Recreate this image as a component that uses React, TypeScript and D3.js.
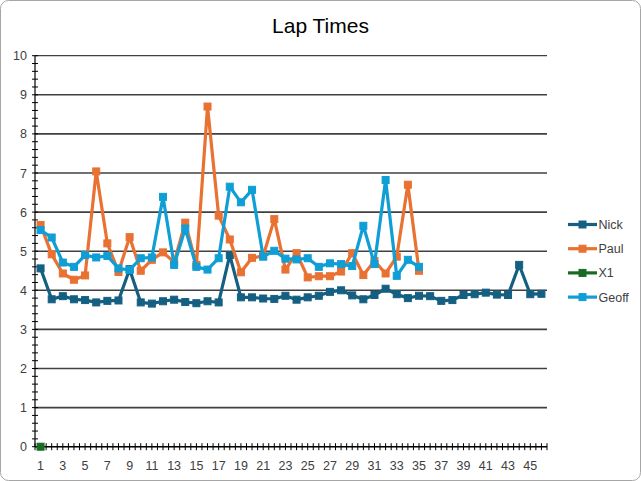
import React from "react";
import * as d3 from "d3";

const categories: number[] = d3.range(1, 47);
const nick: number[] = [4.56,3.77,3.85,3.77,3.75,3.69,3.73,3.74,4.54,3.69,3.66,3.72,3.76,3.70,3.67,3.72,3.69,4.90,3.82,3.82,3.79,3.78,3.86,3.76,3.82,3.86,3.96,4.0,3.87,3.77,3.88,4.04,3.9,3.8,3.86,3.85,3.73,3.75,3.88,3.9,3.94,3.89,3.88,4.65,3.9,3.91];
const paul: number[] = [5.67,4.92,4.43,4.27,4.38,7.04,5.2,4.47,5.36,4.5,4.78,4.97,4.72,5.73,4.65,8.7,5.91,5.3,4.46,4.83,4.88,5.82,4.53,4.95,4.33,4.36,4.36,4.48,4.95,4.39,4.75,4.43,4.86,6.7,4.5];
const x1: number[] = [0];
const geoff: number[] = [5.54,5.35,4.71,4.6,4.9,4.84,4.88,4.56,4.52,4.82,4.84,6.39,4.65,5.58,4.6,4.53,4.82,6.65,6.25,6.57,4.86,5.01,4.81,4.79,4.82,4.6,4.69,4.67,4.62,5.65,4.67,6.82,4.37,4.78,4.6];
const yTicks: number[] = [0,1,2,3,4,5,6,7,8,9,10];
const seriesNames: string[] = ["Nick", "Paul", "X1", "Geoff"];
const seriesColors: string[] = ["#156082", "#E97132", "#196B24", "#0F9ED5"];
const title = "Lap Times";

const W = 641, H = 481;
const left = 35, right = 547, top = 55.7, bottom = 446.7;
const FONT = "'Liberation Sans', Arial, sans-serif";

export default function App() {
  const x = d3.scaleLinear().domain([0.5, categories.length + 0.5]).range([left, right]);
  const y = d3.scaleLinear().domain([0, 10]).range([bottom, top]);
  const seriesData = [nick, paul, x1, geoff];
  const line = d3.line<number>().x((_, i) => x(i + 1)).y((d) => y(d));
  const minorY = d3.range(0, 10.001, 0.2);
  const xTickPos = d3.range(0.5, categories.length + 0.51, 0.5);
  const ms = 7;

  return (
    <svg width={W} height={H} style={{ position: "absolute", left: 0, top: 0, display: "block" }}>
      <rect x={0.5} y={0.5} width={W - 1} height={H - 1} rx={8} fill="#fff" stroke="#A6A6A6" />
      <text x={W / 2} y={32.5} textAnchor="middle" fontFamily={FONT} fontSize={21} fill="#000">{title}</text>
      {yTicks.map((t) => (
        <line key={"g" + t} x1={left} x2={right} y1={y(t)} y2={y(t)} stroke="#404040" strokeWidth={t === 10 ? 1.2 : 1.6} />
      ))}
      <line x1={left} x2={left} y1={top} y2={bottom} stroke="#000" strokeWidth={1.2} />
      <line x1={left} x2={right} y1={bottom} y2={bottom} stroke="#000" strokeWidth={1.2} />
      {minorY.map((t, i) => (
        <line key={"ym" + i} x1={left - 3} x2={left + 3} y1={y(t)} y2={y(t)} stroke="#000" strokeWidth={1} />
      ))}
      {xTickPos.map((t, i) => (
        <line key={"xm" + i} x1={x(t)} x2={x(t)} y1={bottom - 3.5} y2={bottom + 3.5} stroke="#000" strokeWidth={1} />
      ))}
      {yTicks.map((t) => (
        <text key={"yl" + t} x={27} y={y(t) + 4.5} textAnchor="end" fontFamily={FONT} fontSize={12.5} fill="#404040">{t}</text>
      ))}
      {categories.filter((c) => c % 2 === 1).map((c) => (
        <text key={"xl" + c} x={x(c)} y={470} textAnchor="middle" fontFamily={FONT} fontSize={12.5} fill="#404040">{c}</text>
      ))}
      {seriesData.map((data, si) => (
        <g key={"s" + si}>
          <path d={line(data) || ""} fill="none" stroke={seriesColors[si]} strokeWidth={3.2} strokeLinejoin="round" />
          {data.map((d, i) => (
            <rect key={i} x={x(i + 1) - ms / 2} y={y(d) - ms / 2} width={ms} height={ms} fill={seriesColors[si]} stroke={seriesColors[si]} strokeWidth={1} />
          ))}
        </g>
      ))}
      {seriesNames.map((n, i) => {
        const ly = 224.5 + i * 24.2;
        return (
          <g key={"lg" + n}>
            <line x1={568} x2={597} y1={ly} y2={ly} stroke={seriesColors[i]} strokeWidth={3.2} />
            <rect x={582.5 - ms / 2} y={ly - ms / 2} width={ms} height={ms} fill={seriesColors[i]} stroke={seriesColors[i]} />
            <text x={598.5} y={ly + 4.5} fontFamily={FONT} fontSize={12.5} fill="#404040">{n}</text>
          </g>
        );
      })}
    </svg>
  );
}
